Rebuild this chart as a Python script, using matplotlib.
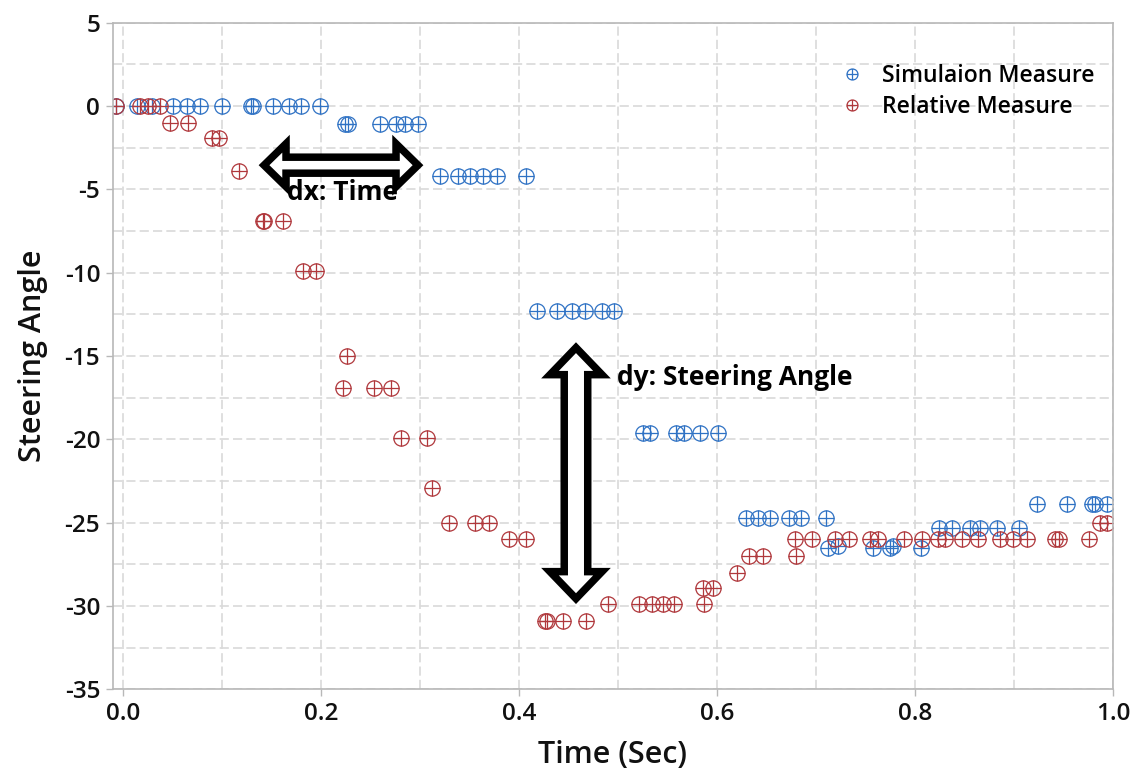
import numpy as np
import matplotlib.pyplot as plt
from matplotlib.path import Path
from matplotlib.patches import Polygon
from matplotlib.transforms import IdentityTransform
from matplotlib.ticker import MultipleLocator

plt.rcParams['font.family'] = ['Open Sans', 'DejaVu Sans']
plt.rcParams['font.weight'] = 'semibold'
plt.rcParams['axes.labelweight'] = 'semibold'
plt.rcParams['axes.unicode_minus'] = False

# ---- data ----
sim_time = [-0.0075, 0.0135, 0.0287, 0.0505, 0.064, 0.0776, 0.0994, 0.1287, 0.1314, 0.151, 0.167, 0.1793, 0.1987,
            0.224, 0.2267, 0.2594, 0.2755, 0.2846, 0.298,
            0.32, 0.3385, 0.3503, 0.3638, 0.3773, 0.4069,
            0.4183, 0.4385, 0.4531, 0.4665, 0.4834, 0.4958,
            0.5251, 0.5322, 0.5584, 0.5665, 0.5827, 0.6009,
            0.629, 0.6416, 0.6534, 0.673, 0.6848, 0.7097,
            0.7118, 0.7225, 0.7578, 0.7747, 0.778, 0.8057,
            0.8245, 0.837, 0.8555, 0.8656, 0.8825, 0.9053,
            0.9229, 0.9532, 0.9785, 0.9818, 0.9936]
sim_angle = [0] * 13 + [-1.1] * 6 + [-4.2] * 6 + [-12.3] * 6 + [-19.6] * 6 + [-24.7] * 6 + \
            [-26.55, -26.4, -26.55, -26.5, -26.4, -26.5] + [-25.3] * 6 + [-23.9] * 5

rel_time = [-0.0075, 0.0169, 0.025, 0.0371,
            0.0472, 0.0657,
            0.0893, 0.097,
            0.1172,
            0.1408, 0.1425, 0.1617,
            0.1813, 0.1947,
            0.2257,
            0.2217, 0.2533, 0.2705,
            0.2803, 0.3066,
            0.3122,
            0.3294, 0.3554, 0.3695,
            0.39, 0.4066,
            0.4261, 0.4284, 0.4446, 0.4672,
            0.49, 0.5213, 0.5338, 0.5455, 0.5567, 0.5869,
            0.586, 0.5961,
            0.6204,
            0.6322, 0.6467, 0.6794,
            0.6787, 0.6956, 0.7191, 0.7336, 0.7545, 0.7629, 0.7888, 0.8067, 0.8235, 0.8303,
            0.8471, 0.8639, 0.8858, 0.8993, 0.9134, 0.9414, 0.9458, 0.9758,
            0.9869, 0.9936]
rel_angle = [0] * 4 + [-1] * 2 + [-1.9] * 2 + [-3.9] + [-6.9] * 3 + [-9.9] * 2 + [-15] + [-16.9] * 3 + \
            [-19.9] * 2 + [-22.9] + [-25] * 3 + [-26] * 2 + [-30.9] * 4 + [-29.9] * 6 + [-28.9] * 2 + \
            [-28] + [-27] * 3 + [-26] * 18 + [-25] * 2

series_names = ['Simulaion Measure', 'Relative Measure']
series_colors = ['#2f72c4', '#b0383c']

# circle with a plus inside
cross = Path([[-1, 0], [1, 0], [0, -1], [0, 1]],
             [Path.MOVETO, Path.LINETO, Path.MOVETO, Path.LINETO])
oplus = Path.make_compound_path(Path.unit_circle(), cross)

W, H = 1135, 770
fig = plt.figure(figsize=(W / 100, H / 100), dpi=100)
left, right, top, bottom = 112.7, 1113, 22.7, 689.3
ax = fig.add_axes([left / W, 1 - bottom / H, (right - left) / W, (bottom - top) / H])

for t, a, name, c in zip([sim_time, rel_time], [sim_angle, rel_angle], series_names, series_colors):
    ax.plot(t, a, linestyle='none', marker=oplus, ms=11, mfc='none', mec=c, mew=0.9, label=name)

ax.set_xlim(-0.0107, 1.0)
ax.set_ylim(-35, 5)
ax.xaxis.set_major_locator(MultipleLocator(0.2))
ax.xaxis.set_minor_locator(MultipleLocator(0.1))
ax.yaxis.set_major_locator(MultipleLocator(5))
ax.yaxis.set_minor_locator(MultipleLocator(2.5))
ax.xaxis.set_major_formatter(plt.FuncFormatter(lambda v, p: '%.1f' % v))

ax.grid(which='both', color='#d9d9d9', linewidth=1.2, dashes=(5.5, 2.5))
ax.set_axisbelow(True)
for s in ax.spines.values():
    s.set_color('#b8b8b8')
    s.set_linewidth(1.2)
ax.tick_params(which='major', direction='out', length=5, width=1, color='#b8b8b8',
               labelsize=17.5, labelcolor='#111111', pad=4)
ax.tick_params(which='minor', length=0)

ax.set_xlabel('Time (Sec)', fontsize=22, color='#111111', labelpad=10)
ax.set_ylabel('Steering Angle', fontsize=22, color='#111111', labelpad=12)

ax.legend(loc='upper right', bbox_to_anchor=(0.998, 0.962), frameon=False, fontsize=16.6,
          markerscale=0.72, handlelength=1.6, handletextpad=0.5, labelspacing=0.28, borderaxespad=0.3)


def double_arrow(ax, p0, p1, half_shaft, half_head, head_len):
    a = ax.transData.transform(p0)
    b = ax.transData.transform(p1)
    u = (b - a) / np.hypot(*(b - a))
    n = np.array([-u[1], u[0]])
    pts = [a,
           a + u * head_len + n * half_head, a + u * head_len + n * half_shaft,
           b - u * head_len + n * half_shaft, b - u * head_len + n * half_head,
           b,
           b - u * head_len - n * half_head, b - u * head_len - n * half_shaft,
           a + u * head_len - n * half_shaft, a + u * head_len - n * half_head]
    poly = Polygon(pts, closed=True, transform=IdentityTransform(), facecolor='white',
                   edgecolor='black', linewidth=5.4, joinstyle='miter', zorder=5)
    fig.patches.append(poly)


double_arrow(ax, (0.1422, -3.55), (0.2978, -3.55), 8, 21.5, 22)
double_arrow(ax, (0.4574, -14.5), (0.4574, -29.56), 11.75, 26, 27)

ax.text(0.221, -5.2, 'dx: Time', fontsize=19, fontweight='bold', ha='center', va='center',
        color='black', zorder=6)
ax.text(0.4985, -16.3, 'dy: Steering Angle', fontsize=19, fontweight='bold', ha='left', va='center',
        color='black', zorder=6)

fig.savefig('out.png', dpi=100)
